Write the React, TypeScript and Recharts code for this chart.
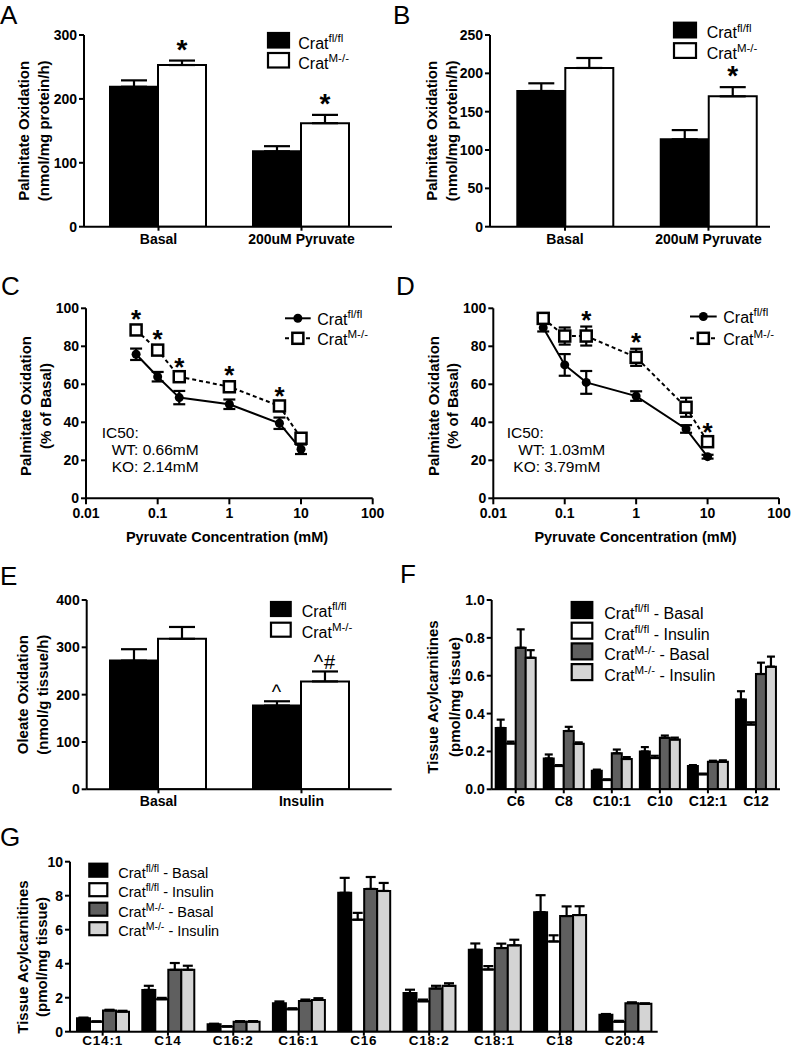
import React from "react";
import { BarChart, Bar, LineChart, Line, XAxis, YAxis, ErrorBar, LabelList } from "recharts";

const FONT = "'Liberation Sans', Arial, Helvetica, sans-serif";
const BLACK = "#000000";
const WHITE = "#ffffff";
const DARK = "#5f5f5f";
const LIGHT = "#d4d4d4";

// ---- data ----
const genotypes = ["fl/fl", "M-/-"];
const conditions = ["Basal", "Insulin"];

// A: palmitate oxidation
const abCats = ["Basal", "200uM Pyruvate"];
const aWT = [219, 118];
const aWTErr = [10, 8];
const aKO = [253, 162];
const aKOErr = [7, 13];
const aKOSig = ["*", "*"];

// B
const bWT = [177, 114];
const bWTErr = [10, 12];
const bKO = [207, 170];
const bKOErr = [13, 12];
const bKOSig = ["", "*"];

// C / D: pyruvate dose response
const conc = [0.05, 0.1, 0.2, 1, 5, 10];
const logTicks = [0.01, 0.1, 1, 10, 100];
const cWT = [75.8, 64, 53, 49.5, 39.5, 25.8];
const cWTErr = [3, 2.5, 3.5, 2.5, 3, 2.5];
const cKO = [88.6, 78, 64, 58.7, 48.6, 31.6];
const cKOErr = [2, 2, 1.5, 2.5, 1.5, 2.5];
const cSig = ["*", "*", "*", "*", "*", ""];
const cIC50 = ["0.66mM", "2.14mM"];
const dWT = [89.8, 70.2, 61, 53.8, 36.5, 21.9];
const dWTErr = [2, 5.7, 6, 2.5, 2, 1];
const dKO = [94.7, 85.4, 85.4, 74.2, 47.9, 29.8];
const dKOErr = [2.5, 4.5, 5, 4.5, 5, 1.5];
const dSig = ["", "", "*", "*", "", "*"];
const dIC50 = ["1.03mM", "3.79mM"];

// E: oleate oxidation
const eCats = ["Basal", "Insulin"];
const eWT = [272, 177];
const eWTErr = [24, 9];
const eKO = [318, 228];
const eKOErr = [25, 21];
const eWTSig = ["", "^"];
const eKOSig = ["", "^#"];

// F: short/medium chain acylcarnitines
const fCats = ["C6", "C8", "C10:1", "C10", "C12:1", "C12"];
const fWTBasal = [0.324, 0.163, 0.098, 0.2, 0.123, 0.474];
const fWTBasalErr = [0.044, 0.021, 0.006, 0.023, 0.005, 0.044];
const fWTIns = [0.242, 0.123, 0.049, 0.165, 0.079, 0.342];
const fWTInsErr = [0.01, 0.005, 0.004, 0.012, 0.004, 0.012];
const fKOBasal = [0.748, 0.308, 0.19, 0.272, 0.145, 0.609];
const fKOBasalErr = [0.097, 0.022, 0.02, 0.012, 0.006, 0.06];
const fKOIns = [0.695, 0.24, 0.16, 0.263, 0.145, 0.648];
const fKOInsErr = [0.04, 0.008, 0.01, 0.01, 0.008, 0.053];

// G: long chain acylcarnitines
const gCats = ["C14:1", "C14", "C16:2", "C16:1", "C16", "C18:2", "C18:1", "C18", "C20:4"];
const gWTBasal = [0.79, 2.46, 0.44, 1.68, 8.17, 2.27, 4.82, 7.03, 0.99];
const gWTBasalErr = [0.04, 0.24, 0.03, 0.1, 0.88, 0.2, 0.37, 1.0, 0.05];
const gWTIns = [0.59, 1.91, 0.3, 1.32, 6.59, 1.79, 3.66, 5.31, 0.59];
const gWTInsErr = [0.02, 0.08, 0.02, 0.06, 0.4, 0.1, 0.2, 0.36, 0.05];
const gKOBasal = [1.24, 3.64, 0.59, 1.81, 8.4, 2.54, 4.92, 6.8, 1.68];
const gKOBasalErr = [0.05, 0.4, 0.03, 0.08, 0.7, 0.16, 0.26, 0.57, 0.05];
const gKOIns = [1.18, 3.64, 0.59, 1.87, 8.28, 2.7, 5.08, 6.86, 1.64];
const gKOInsErr = [0.05, 0.24, 0.03, 0.1, 0.47, 0.15, 0.33, 0.52, 0.03];

// ---- layout ----
type Frame = { left: number; top: number; width: number; height: number; plot: number[] };

const frameA: Frame = { left: 0, top: 0, width: 395, height: 252, plot: [84, 35, 392, 226.7] };
const frameB: Frame = { left: 395, top: 0, width: 396, height: 252, plot: [490, 35, 770, 226.7] };
const frameC: Frame = { left: 0, top: 250, width: 395, height: 280, plot: [86, 308.3, 372.7, 498.3] };
const frameD: Frame = { left: 395, top: 250, width: 396, height: 280, plot: [493.3, 308.3, 779, 498.3] };
const frameE: Frame = { left: 0, top: 560, width: 395, height: 256, plot: [86.7, 600, 391.7, 789.3] };
const frameF: Frame = { left: 395, top: 560, width: 396, height: 256, plot: [491.7, 600, 780, 789.3] };
const frameG: Frame = { left: 0, top: 840, width: 791, height: 209, plot: [70, 861.7, 657.7, 1031.7] };

const axisLine = { stroke: BLACK, strokeWidth: 2 };
const tickFont = { fill: BLACK, fontSize: 14, fontWeight: 700, fontFamily: FONT };

function AxisTitle({ lines, xs, cy, size = 15 }: { lines: string[]; xs: number[]; cy: number; size?: number }) {
  return (
    <g>
      {lines.map((l, i) => (
        <text key={i} x={xs[i]} y={cy} transform={`rotate(-90 ${xs[i]} ${cy})`} textAnchor="middle"
          dominantBaseline="central" fontSize={size} fontWeight={700} fontFamily={FONT} fill={BLACK}>
          {l}
        </text>
      ))}
    </g>
  );
}

interface SigStyle { size: number; weight: number; dy: number; spacing?: number }
const starStyle: SigStyle = { size: 28, weight: 700, dy: -2 };
const caretStyle: SigStyle = { size: 20, weight: 400, dy: -2, spacing: 1 };

interface BarSeries { values: number[]; errs: number[]; fill: string; sig?: string[] }

function barSig(s: BarSeries, st: SigStyle) {
  return (p: any) => {
    const i = p.index;
    const txt = s.sig ? s.sig[i] : "";
    if (!txt) return null;
    const vb = p.viewBox || p;
    const h = Math.abs(vb.height);
    const top = Math.min(vb.y, vb.y + vb.height);
    const errPx = s.values[i] ? (s.errs[i] / s.values[i]) * h : 0;
    return (
      <text x={vb.x + vb.width / 2} y={top - errPx + st.dy} textAnchor="middle" fontSize={st.size}
        fontWeight={st.weight} fontFamily={FONT} fill={BLACK} letterSpacing={st.spacing ?? 0}>
        {txt}
      </text>
    );
  };
}

interface BarPanelProps {
  frame: Frame; cats: string[]; series: BarSeries[];
  yMax: number; yTicks: number[]; yFmt?: (v: number) => string;
  barSize: number; capWidth: number; xDomain?: number[];
  title: string[]; titleX: number[]; titleCy?: number;
  sigStyle?: SigStyle; catFont?: number; catSpacing?: number; catMargin?: number;
}

function BarPanel(p: BarPanelProps) {
  const { left, top, width, height, plot } = p.frame;
  const [x0, y0, x1, y1] = plot;
  const data = p.cats.map((c, i) => {
    const row: Record<string, unknown> = { cat: c, idx: i };
    p.series.forEach((s, k) => {
      row[`v${k}`] = s.values[i];
      row[`e${k}`] = [0, s.errs[i]];
    });
    return row;
  });
  const cy = (p.titleCy ?? (y0 + y1) / 2) - top;
  const xs = p.titleX.map((x) => x - left);
  const xTick = { ...tickFont, fontSize: p.catFont ?? 14, letterSpacing: p.catSpacing ?? 0 };
  const xh = top + height - y1;
  return (
    <div style={{ position: "absolute", left, top }}>
      <BarChart width={width} height={height} data={data} barGap={0} barSize={p.barSize}
        margin={{ top: y0 - top, right: left + width - x1, bottom: 0, left: 0 }}>
        {p.xDomain ? (
          <XAxis dataKey="idx" type="number" domain={p.xDomain} allowDataOverflow ticks={p.cats.map((_, i) => i)}
            tickFormatter={(v: number) => p.cats[v] ?? ""} height={xh} axisLine={axisLine}
            tickLine={axisLine} tickSize={4} tickMargin={p.catMargin ?? 3} tick={xTick} interval={0} />
        ) : (
          <XAxis dataKey="cat" height={xh} axisLine={axisLine} tickLine={axisLine} tickSize={4}
            tickMargin={p.catMargin ?? 3} tick={xTick} interval={0} />
        )}
        <YAxis width={x0 - left} domain={[0, p.yMax]} ticks={p.yTicks} allowDataOverflow
          tickFormatter={p.yFmt ?? ((v: number) => String(v))} axisLine={axisLine} tickLine={axisLine}
          tickSize={5} tick={tickFont}
          label={{ content: () => <AxisTitle lines={p.title} xs={xs} cy={cy} /> }} />
        {p.series.map((s, k) => (
          <Bar key={k} dataKey={`v${k}`} fill={s.fill} stroke={BLACK} strokeWidth={2} isAnimationActive={false}>
            <ErrorBar dataKey={`e${k}`} width={p.capWidth} strokeWidth={2.2} stroke={BLACK} direction="y" />
            {s.sig && <LabelList content={barSig(s, p.sigStyle ?? starStyle)} />}
          </Bar>
        ))}
      </BarChart>
    </div>
  );
}

const CircleDot = (p: any) => <circle key={p.index} cx={p.cx} cy={p.cy} r={4.5} fill={BLACK} />;
const SquareDot = (p: any) => (
  <rect key={p.index} x={p.cx - 5.5} y={p.cy - 5.5} width={11} height={11} fill={WHITE} stroke={BLACK} strokeWidth={2.5} />
);

interface LinePanelProps {
  frame: Frame; wt: number[]; wtErr: number[]; ko: number[]; koErr: number[]; sig: string[];
  title: string[]; titleX: number[]; titleCy: number;
}

function LinePanel(p: LinePanelProps) {
  const { left, top, width, height, plot } = p.frame;
  const [x0, y0, x1, y1] = plot;
  const ppu = (y1 - y0) / 100;
  const data = conc.map((x, i) => ({ x, wt: p.wt[i], ko: p.ko[i], wtE: p.wtErr[i], koE: p.koErr[i] }));
  const xs = p.titleX.map((x) => x - left);
  const starLabel = (lp: any) => {
    const i = lp.index;
    if (!p.sig[i]) return null;
    const px = lp.x ?? lp.viewBox?.x;
    const py = lp.y ?? lp.viewBox?.y;
    return (
      <text x={px} y={py - p.koErr[i] * ppu + 2} textAnchor="middle" fontSize={26} fontWeight={700}
        fontFamily={FONT} fill={BLACK}>
        {p.sig[i]}
      </text>
    );
  };
  return (
    <div style={{ position: "absolute", left, top }}>
      <LineChart width={width} height={height} data={data}
        margin={{ top: y0 - top, right: left + width - x1, bottom: 0, left: 0 }}>
        <XAxis dataKey="x" type="number" scale="log" domain={[0.01, 100]} ticks={logTicks} allowDataOverflow
          tickFormatter={(v: number) => String(v)} height={top + height - y1} axisLine={axisLine}
          tickLine={axisLine} tickSize={6} tickMargin={4} tick={tickFont} interval={0} />
        <YAxis width={x0 - left} domain={[0, 100]} ticks={[0, 20, 40, 60, 80, 100]} allowDataOverflow
          axisLine={axisLine} tickLine={axisLine} tickSize={5} tick={tickFont}
          label={{ content: () => <AxisTitle lines={p.title} xs={xs} cy={p.titleCy - top} /> }} />
        <Line type="linear" dataKey="wt" stroke={BLACK} strokeWidth={2} dot={CircleDot} activeDot={false}
          isAnimationActive={false}>
          <ErrorBar dataKey="wtE" width={6} strokeWidth={2.2} stroke={BLACK} direction="y" />
        </Line>
        <Line type="linear" dataKey="ko" stroke={BLACK} strokeWidth={2} strokeDasharray="4 3" dot={SquareDot}
          activeDot={false} isAnimationActive={false}>
          <ErrorBar dataKey="koE" width={6} strokeWidth={2.2} stroke={BLACK} direction="y" />
          <LabelList content={starLabel} />
        </Line>
      </LineChart>
    </div>
  );
}

// ---- legends & free text (page coordinates) ----
interface LegendItem { fill: string; sup: string; suffix?: string }

function BoxLegend({ x, y, w, h, step, textX, size, supSize, items }: {
  x: number; y: number; w: number; h: number; step: number; textX: number; size: number; supSize: number; items: LegendItem[];
}) {
  return (
    <g>
      {items.map((it, i) => (
        <g key={i}>
          <rect x={x + 1} y={y + i * step + 1} width={w - 2} height={h - 2} fill={it.fill} stroke={BLACK} strokeWidth={2.2} />
          <text x={textX} y={y + i * step + h} fontSize={size} fontFamily={FONT} fill={BLACK}>
            Crat
            <tspan dy={-size * 0.42} fontSize={supSize}>{it.sup}</tspan>
            {it.suffix && <tspan dy={size * 0.42} fontSize={size}>{it.suffix}</tspan>}
          </text>
        </g>
      ))}
    </g>
  );
}

function LineLegend({ x0, x1, rows, textX }: { x0: number; x1: number; rows: number[]; textX: number }) {
  const mx = (x0 + x1) / 2;
  return (
    <g>
      <line x1={x0} x2={x1} y1={rows[0]} y2={rows[0]} stroke={BLACK} strokeWidth={2} />
      <circle cx={mx} cy={rows[0]} r={4.5} fill={BLACK} />
      <line x1={x0} x2={x1} y1={rows[1]} y2={rows[1]} stroke={BLACK} strokeWidth={2} strokeDasharray="4 3" />
      <rect x={mx - 5.5} y={rows[1] - 5.5} width={11} height={11} fill={WHITE} stroke={BLACK} strokeWidth={2.5} />
      {genotypes.map((g, i) => (
        <text key={g} x={textX} y={rows[i] + 6.5} fontSize={16} fontFamily={FONT} fill={BLACK}>
          Crat<tspan dy={-7} fontSize={11.5}>{g}</tspan>
        </text>
      ))}
    </g>
  );
}

const twoItems: LegendItem[] = [
  { fill: BLACK, sup: genotypes[0] },
  { fill: WHITE, sup: genotypes[1] },
];
const fourItems: LegendItem[] = [
  { fill: BLACK, sup: genotypes[0], suffix: ` - ${conditions[0]}` },
  { fill: WHITE, sup: genotypes[0], suffix: ` - ${conditions[1]}` },
  { fill: DARK, sup: genotypes[1], suffix: ` - ${conditions[0]}` },
  { fill: LIGHT, sup: genotypes[1], suffix: ` - ${conditions[1]}` },
];

function Overlay() {
  const letter = (t: string, x: number, y: number) => (
    <text x={x} y={y} fontSize={26} fontFamily={FONT} fill={BLACK}>{t}</text>
  );
  const plain = (t: string, x: number, y: number) => (
    <text x={x} y={y} fontSize={15.5} fontFamily={FONT} fill={BLACK}>{t}</text>
  );
  return (
    <svg width={791} height={1049} style={{ position: "absolute", left: 0, top: 0, pointerEvents: "none" }}>
      {letter("A", 0, 23.5)}
      {letter("B", 393, 23.5)}
      {letter("C", 1, 295)}
      {letter("D", 396, 295)}
      {letter("E", 0, 585)}
      {letter("F", 400, 583)}
      {letter("G", 0, 845.7)}

      <BoxLegend x={267} y={32} w={23} h={16.5} step={20} textX={298.3} size={16} supSize={11.5} items={twoItems} />
      <BoxLegend x={673} y={21.7} w={24} h={16.7} step={20.5} textX={706.7} size={16} supSize={11.5} items={twoItems} />
      <BoxLegend x={270} y={601} w={21.7} h={16} step={20.7} textX={301.7} size={16} supSize={11.5} items={twoItems} />
      <BoxLegend x={570.7} y={601} w={22.6} h={18} step={20.7} textX={604.3} size={16} supSize={11.5} items={fourItems} />
      <BoxLegend x={88.3} y={862.7} w={20} h={15} step={19.5} textX={118.3} size={14.5} supSize={10.5} items={fourItems} />

      <LineLegend x0={285} x1={310.7} rows={[318.3, 338.3]} textX={317.3} />
      <LineLegend x0={690} x1={716.7} rows={[316.5, 338.3]} textX={723.3} />

      {plain("IC50:", 101.7, 437.7)}
      {plain(`WT: ${cIC50[0]}`, 111.7, 455)}
      {plain(`KO: ${cIC50[1]}`, 111.7, 472.3)}
      {plain("IC50:", 506.7, 437.7)}
      {plain(`WT: ${dIC50[0]}`, 518.3, 455)}
      {plain(`KO: ${dIC50[1]}`, 513.3, 472.3)}

      <text x={227} y={541.5} textAnchor="middle" fontSize={14.5} fontWeight={700} fontFamily={FONT} fill={BLACK}>
        Pyruvate Concentration (mM)
      </text>
      <text x={635.5} y={541.5} textAnchor="middle" fontSize={14.5} fontWeight={700} fontFamily={FONT} fill={BLACK}>
        Pyruvate Concentration (mM)
      </text>
    </svg>
  );
}

export default function App() {
  return (
    <div style={{ position: "absolute", left: 0, top: 0, width: 791, height: 1049, background: WHITE, fontFamily: FONT }}>
      <BarPanel frame={frameA} cats={abCats} xDomain={[-0.521, 1.633]} barSize={48} capWidth={13}
        series={[
          { values: aWT, errs: aWTErr, fill: BLACK },
          { values: aKO, errs: aKOErr, fill: WHITE, sig: aKOSig },
        ]}
        yMax={300} yTicks={[0, 100, 200, 300]}
        title={["Palmitate Oxidation", "(nmol/mg protein/h)"]} titleX={[23.3, 43.3]} />
      <BarPanel frame={frameB} cats={abCats} xDomain={[-0.523, 1.429]} barSize={48} capWidth={13}
        series={[
          { values: bWT, errs: bWTErr, fill: BLACK },
          { values: bKO, errs: bKOErr, fill: WHITE, sig: bKOSig },
        ]}
        yMax={250} yTicks={[0, 50, 100, 150, 200, 250]}
        title={["Palmitate Oxidation", "(nmol/mg protein/h)"]} titleX={[431.7, 451.7]} />
      <LinePanel frame={frameC} wt={cWT} wtErr={cWTErr} ko={cKO} koErr={cKOErr} sig={cSig}
        title={["Palmitate Oxidation", "(% of Basal)"]} titleX={[25.7, 45.7]} titleCy={406} />
      <LinePanel frame={frameD} wt={dWT} wtErr={dWTErr} ko={dKO} koErr={dKOErr} sig={dSig}
        title={["Palmitate Oxidation", "(% of Basal)"]} titleX={[433, 452.5]} titleCy={406} />
      <BarPanel frame={frameE} cats={eCats} xDomain={[-0.502, 1.631]} barSize={48} capWidth={13}
        series={[
          { values: eWT, errs: eWTErr, fill: BLACK, sig: eWTSig },
          { values: eKO, errs: eKOErr, fill: WHITE, sig: eKOSig },
        ]}
        sigStyle={caretStyle}
        yMax={400} yTicks={[0, 100, 200, 300, 400]}
        title={["Oleate Oxidation", "(nmol/g tissue/h)"]} titleX={[23, 43]} />
      <BarPanel frame={frameF} cats={fCats} barSize={10} capWidth={4}
        series={[
          { values: fWTBasal, errs: fWTBasalErr, fill: BLACK },
          { values: fWTIns, errs: fWTInsErr, fill: WHITE },
          { values: fKOBasal, errs: fKOBasalErr, fill: DARK },
          { values: fKOIns, errs: fKOInsErr, fill: LIGHT },
        ]}
        yMax={1} yTicks={[0, 0.2, 0.4, 0.6, 0.8, 1]} yFmt={(v) => v.toFixed(1)}
        title={["Tissue Acylcarnitines", "(pmol/mg tissue)"]} titleX={[432, 454]} titleCy={697} />
      <BarPanel frame={frameG} cats={gCats} barSize={13} capWidth={5} catFont={13.5} catSpacing={0.8} catMargin={0}
        series={[
          { values: gWTBasal, errs: gWTBasalErr, fill: BLACK },
          { values: gWTIns, errs: gWTInsErr, fill: WHITE },
          { values: gKOBasal, errs: gKOBasalErr, fill: DARK },
          { values: gKOIns, errs: gKOInsErr, fill: LIGHT },
        ]}
        yMax={10} yTicks={[0, 2, 4, 6, 8, 10]}
        title={["Tissue Acylcarnitines", "(pmol/mg tissue)"]} titleX={[22, 41]} titleCy={957} />
      <Overlay />
    </div>
  );
}
